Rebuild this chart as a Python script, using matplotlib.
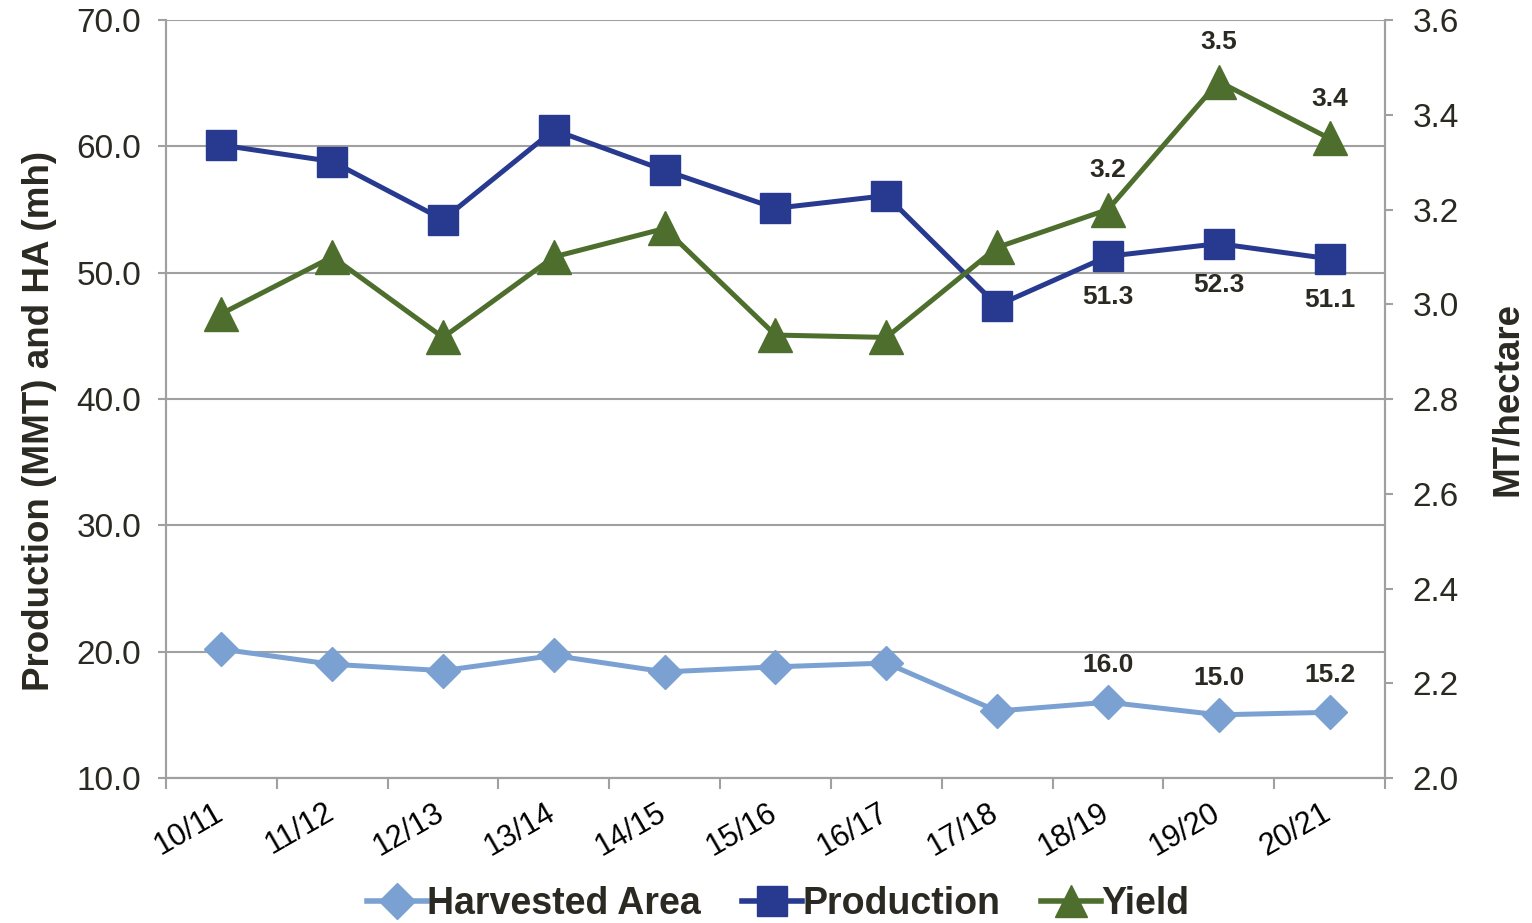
import numpy as np
import matplotlib.pyplot as plt
import matplotlib.transforms as mtrans
from matplotlib.lines import Line2D

plt.rcParams['font.family'] = ['Liberation Sans', 'DejaVu Sans']

# Marketing years
years = ['10/11', '11/12', '12/13', '13/14', '14/15', '15/16',
         '16/17', '17/18', '18/19', '19/20', '20/21']
harvested_area = [20.2, 19.0, 18.5, 19.7, 18.4, 18.8, 19.1, 15.3, 16.0, 15.0, 15.2]
production = [60.1, 58.8, 54.2, 61.3, 58.1, 55.1, 56.1, 47.4, 51.3, 52.3, 51.1]
yield_mt = [2.98, 3.10, 2.93, 3.10, 3.16, 2.935, 2.93, 3.12, 3.20, 3.47, 3.35]

c_ha = '#7ba1d3'
c_prod = '#283a8f'
c_yield = '#4e6e2d'
c_text = '#2b2a22'
c_grid = '#a0a0a0'

fig = plt.figure(figsize=(15.32, 9.23), dpi=100)
ax = fig.add_axes([0.1084, 0.1571, 0.7956, 0.8212])
ax2 = ax.twinx()

x = np.arange(len(years))

ax.plot(x, harvested_area, color=c_ha, lw=3.6, marker='D', ms=17,
        markeredgecolor=c_ha, zorder=3)
ax.plot(x, production, color=c_prod, lw=3.6, marker='s', ms=22,
        markeredgecolor=c_prod, zorder=3)
ax2.plot(x, yield_mt, color=c_yield, lw=3.6, marker='^', ms=24,
         markeredgecolor=c_yield, zorder=3)

# data labels for the last three years
for i in range(8, 11):
    ax.annotate(f'{harvested_area[i]:.1f}', (x[i], harvested_area[i]),
                xytext=(0, 18), textcoords='offset points', ha='center',
                va='bottom', fontsize=19, fontweight='bold', color=c_text)
    ax.annotate(f'{production[i]:.1f}', (x[i], production[i]),
                xytext=(0, -21), textcoords='offset points', ha='center',
                va='top', fontsize=19, fontweight='bold', color=c_text)
    ax2.annotate(f'{yield_mt[i]:.1f}', (x[i], yield_mt[i]),
                 xytext=(0, 20), textcoords='offset points', ha='center',
                 va='bottom', fontsize=19, fontweight='bold', color=c_text)

ax.set_xlim(-0.5, len(years) - 0.5)
ax.set_ylim(10, 70)
ax.set_yticks(np.arange(10, 71, 10))
ax.set_yticklabels([f'{v:.1f}' for v in np.arange(10, 71, 10)])
ax2.set_ylim(2.0, 3.6)
ax2.set_yticks(np.arange(2.0, 3.61, 0.2))
ax2.set_yticklabels([f'{v:.1f}' for v in np.arange(2.0, 3.61, 0.2)])

ax.set_xticks(np.arange(-0.5, len(years), 1.0))
ax.set_xticklabels([])
ax.set_xticks(x, minor=True)
ax.set_xticklabels(years, minor=True, rotation=30, ha='right',
                   rotation_mode='anchor', fontsize=22, color='black')
ax.tick_params(axis='x', which='minor', length=0, pad=14)
ax.tick_params(axis='x', which='major', length=8, color=c_grid, width=1.5)
shift = mtrans.ScaledTranslation(-6 / 72, 0, fig.dpi_scale_trans)
for lab in ax.get_xticklabels(minor=True):
    lab.set_transform(lab.get_transform() + shift)

ax.yaxis.grid(True, color=c_grid, lw=1.5)
ax.set_axisbelow(True)
ax.tick_params(axis='y', labelsize=24, labelcolor=c_text, length=6,
               width=1.5, color=c_grid, pad=12)
ax2.tick_params(axis='y', labelsize=24, labelcolor=c_text, length=6,
                width=1.5, color=c_grid, pad=14)

for a in (ax, ax2):
    for s in a.spines.values():
        s.set_color(c_grid)
        s.set_linewidth(1.5)
    a.spines['top'].set_visible(False)

ax.set_ylabel('Production (MMT) and HA (mh)', fontsize=26.5, fontweight='bold',
              color=c_text, labelpad=14)
ax.yaxis.label.set_y(0.471)
ax2.set_ylabel('MT/hectare', fontsize=26.5, fontweight='bold', color=c_text,
               labelpad=22)

handles = [
    Line2D([], [], color=c_ha, lw=4, marker='D', ms=18, markeredgecolor=c_ha),
    Line2D([], [], color=c_prod, lw=4, marker='s', ms=21, markeredgecolor=c_prod),
    Line2D([], [], color=c_yield, lw=4, marker='^', ms=23, markeredgecolor=c_yield),
]
fig.legend(handles, ['Harvested Area', 'Production', 'Yield'], loc='lower center',
           bbox_to_anchor=(0.508, -0.036), ncol=3, frameon=False,
           prop={'size': 27, 'weight': 'bold'}, handlelength=1.6,
           handletextpad=0.0, columnspacing=1.1, labelcolor=c_text)

fig.savefig('out.png', dpi=100)
